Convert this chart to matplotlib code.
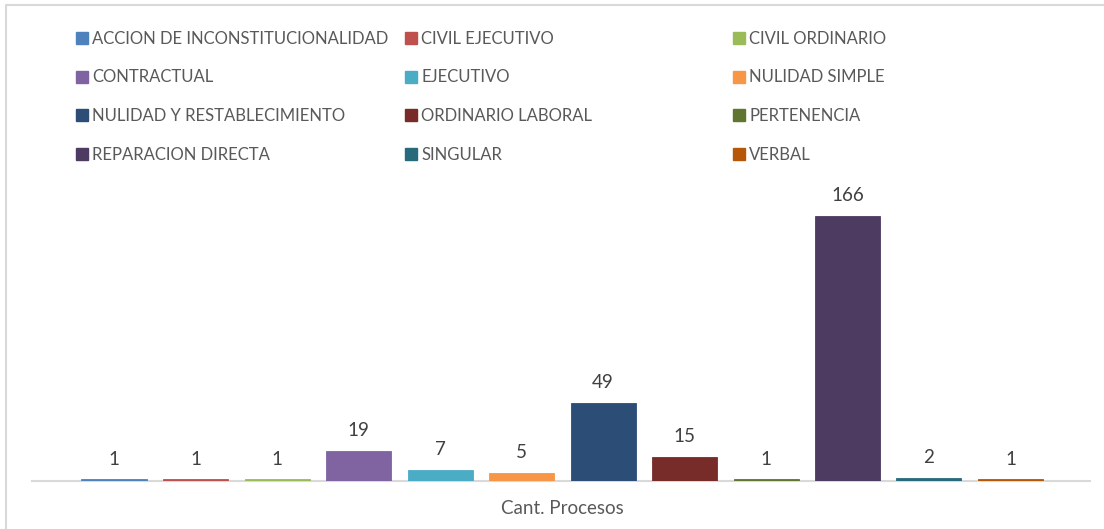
import matplotlib
matplotlib.use("Agg")
import matplotlib.pyplot as plt
from matplotlib.patches import Rectangle, Patch

categories = ["ACCION DE INCONSTITUCIONALIDAD", "CIVIL EJECUTIVO", "CIVIL ORDINARIO",
              "CONTRACTUAL", "EJECUTIVO", "NULIDAD SIMPLE",
              "NULIDAD Y RESTABLECIMIENTO", "ORDINARIO LABORAL", "PERTENENCIA",
              "REPARACION DIRECTA", "SINGULAR", "VERBAL"]
values = [1, 1, 1, 19, 7, 5, 49, 15, 1, 166, 2, 1]
colors = ["#4F81BD", "#C0504D", "#9BBB59", "#8064A2", "#4BACC6", "#F79646",
          "#2C4D75", "#772C2A", "#5F7530", "#4D3B62", "#276A7C", "#B65708"]
xlabel = "Cant. Procesos"

W, H = 1104, 529
plt.rcParams['font.family'] = ['Lato', 'DejaVu Sans']
fig = plt.figure(figsize=(W / 100, H / 100), dpi=100)
fig.patch.set_facecolor("white")

# chart frame (cropped on right and bottom)
fig.patches.append(Rectangle((6 / W, -0.05), 1.2, (H - 5) / H + 0.05, transform=fig.transFigure,
                             fill=False, edgecolor="#D9D9D9", linewidth=1.5))

ax_left, ax_right, ax_bottom, ax_top = 32, 1090, 481, 170
ax = fig.add_axes([ax_left / W, (H - ax_bottom) / H, (ax_right - ax_left) / W, (ax_bottom - ax_top) / H])
ax.set_facecolor("none")

spacing = 81.5
first_center = 114
xmin = (ax_left - first_center) / spacing
xmax = (ax_right - first_center) / spacing
px_per_unit = (481 - 216) / 166.0
ymax = (ax_bottom - ax_top) / px_per_unit

xs = list(range(len(values)))
bars = ax.bar(xs, values, width=65 / spacing, color=colors, edgecolor=colors, linewidth=0.6, zorder=3)
for x, v in zip(xs, values):
    ax.annotate(str(v), (x, v), xytext=(0, 8.5), textcoords="offset points",
                ha="center", va="bottom", fontsize=13.5, color="#404040")

ax.set_xlim(xmin, xmax)
ax.set_ylim(0, ymax)
for s in ["top", "right", "left"]:
    ax.spines[s].set_visible(False)
ax.spines["bottom"].set_color("#D9D9D9")
ax.spines["bottom"].set_linewidth(1.5)
ax.set_yticks([])
ax.set_xticks([])
fig.text(562 / W, 1 - 508 / H, xlabel, ha="center", va="center", fontsize=13.5, color="#595959")

# legend: 3 columns
col_x = [76, 405, 733]
for c in range(3):
    handles = [Patch(facecolor=colors[i], edgecolor=colors[i]) for i in range(c, len(categories), 3)]
    labels = [categories[i] for i in range(c, len(categories), 3)]
    leg = fig.legend(handles, labels, loc="upper left",
                     bbox_to_anchor=(col_x[c] / W, 1 - 31 / H),
                     frameon=False, fontsize=12, handlelength=0.7, handleheight=0.7,
                     handletextpad=0.28, labelspacing=1.35, borderpad=0, borderaxespad=0)
    for t in leg.get_texts():
        t.set_color("#595959")

fig.savefig("out.png", dpi=100)
